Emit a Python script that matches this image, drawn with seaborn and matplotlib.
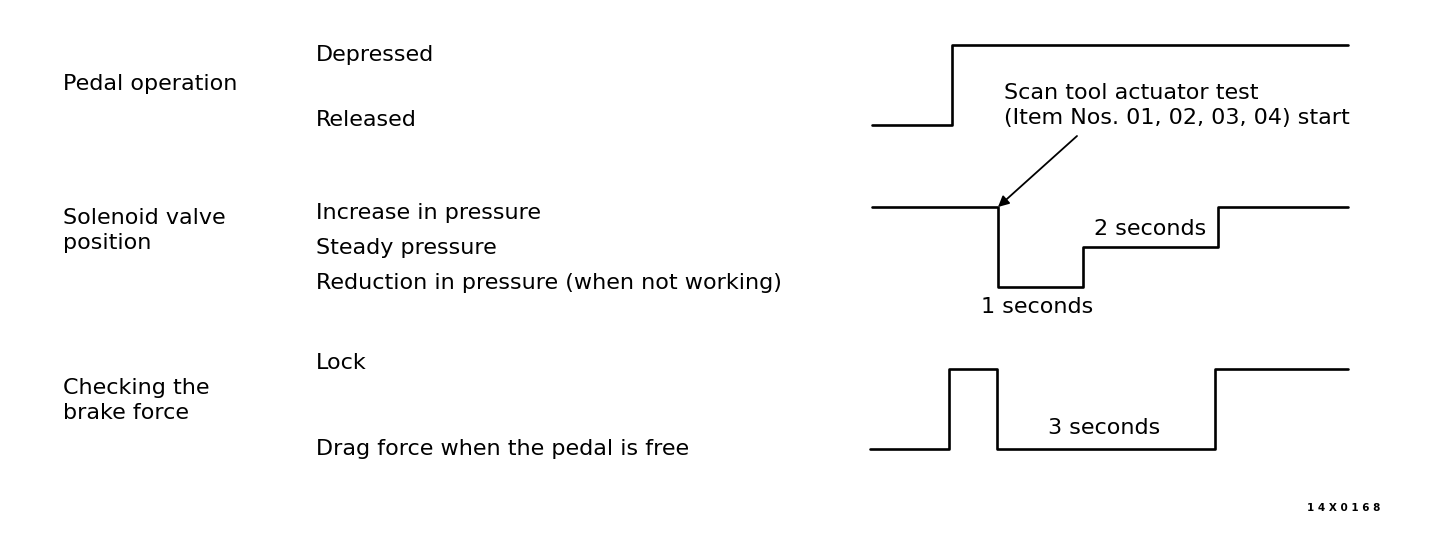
import matplotlib
matplotlib.use("Agg")
import matplotlib.pyplot as plt
import seaborn as sns
import pandas as pd

# --- DATA: change points of each signal (time units, state level) ---
pedal_t = [0.0, 8.0, 47.6]
pedal_level = [0, 1, 1]          # 0 = Released, 1 = Depressed

solenoid_t = [0.0, 12.6, 21.1, 34.6, 47.6]
solenoid_level = [2, 0, 1, 2, 2]  # 0 = Reduction, 1 = Steady, 2 = Increase

brake_t = [-0.2, 7.7, 12.5, 34.3, 47.6]
brake_level = [0, 1, 0, 1, 1]     # 0 = Drag force, 1 = Lock

row_titles = [["Pedal operation"], ["Solenoid valve", "position"], ["Checking the", "brake force"]]
pedal_states = ["Released", "Depressed"]
solenoid_states = ["Reduction in pressure (when not working)", "Steady pressure", "Increase in pressure"]
brake_states = ["Drag force when the pedal is free", "Lock"]
durations = ["1 seconds", "2 seconds", "3 seconds"]
note = ["Scan tool actuator test", "(Item Nos. 01, 02, 03, 04) start"]
fig_code = "1 4 X 0 1 6 8"

# --- STYLE ---
sns.set_theme(style="white")
plt.rcParams['font.family'] = ['DejaVu Sans']
plt.rcParams['text.color'] = 'black'
FS = 16
W, H = 1440, 534

fig = plt.figure(figsize=(14.4, 5.34), dpi=100, facecolor="white")


def fx(px):
    return px / W


def fy(py):
    return 1 - py / H


def label(px, py, s, **kw):
    # py is the baseline in pixels from the top
    fig.text(fx(px), fy(py), s, fontsize=kw.pop("fontsize", FS), va="baseline",
             color="black", **kw)


def row_axes(y_lo, y_hi, n_levels):
    # axes where level 0 sits at pixel y_lo and the top level at pixel y_hi
    top = n_levels - 1
    per = (y_lo - y_hi) / top
    pad = 0.5
    bottom_px = y_lo + pad * per
    top_px = y_hi - pad * per
    # x: time 0 at px 872, 10 px per unit
    ax = fig.add_axes([fx(860), fy(bottom_px), fx(500), (bottom_px - top_px) / H])
    ax.set_xlim((860 - 872) / 10, (1360 - 872) / 10)
    ax.set_ylim(-pad, top + pad)
    ax.axis("off")
    return ax


def draw(ax, t, lvl):
    df = pd.DataFrame({"t": t, "level": lvl})
    sns.lineplot(data=df, x="t", y="level", ax=ax, estimator=None, sort=False,
                 drawstyle="steps-post", color="black", lw=1.9)
    ax.axis("off")


ax1 = row_axes(125, 45, 2)
draw(ax1, pedal_t, pedal_level)
ax2 = row_axes(287, 207, 3)
draw(ax2, solenoid_t, solenoid_level)
ax3 = row_axes(449, 369, 2)
draw(ax3, brake_t, brake_level)

# left row titles
for lines, y in zip(row_titles, [90, 224, 394]):
    for i, line in enumerate(lines):
        label(63, y + 25 * i, line)

# state labels
for txt, y in zip(pedal_states, [126, 61]):
    label(316, y, txt)
for txt, y in zip(solenoid_states, [289, 254, 219]):
    label(316, y, txt)
for txt, y in zip(brake_states, [455, 369]):
    label(316, y, txt)

# duration labels
label(1037, 313, durations[0], ha="center")
label(1150, 235, durations[1], ha="center")
label(1104, 434, durations[2], ha="center")

# annotation arrow pointing at the start of the solenoid test
label(1004, 99, note[0])
label(1004, 124, note[1])
ax2.annotate("", xy=(solenoid_t[1], solenoid_level[0]), xycoords="data",
             xytext=(1077, H - 136), textcoords="figure pixels",
             arrowprops=dict(arrowstyle="-|>", color="black", lw=1.3,
                             mutation_scale=16, shrinkA=0, shrinkB=0))

label(1344, 511, fig_code, fontsize=7.5, fontweight="bold", ha="center")

fig.savefig("out.png", dpi=100, facecolor="white")
